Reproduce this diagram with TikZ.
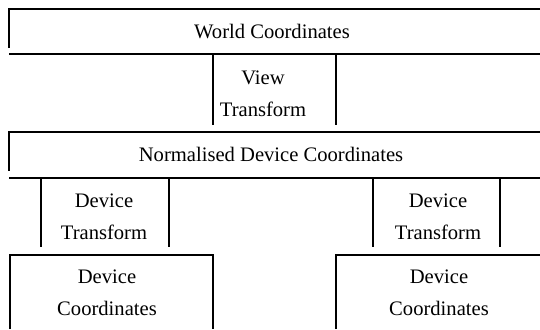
\documentclass[tikz,border=0pt]{standalone}
\usepackage{fontspec}
\setmainfont{Liberation Serif}
\usepackage{tikz}
\usetikzlibrary{positioning}

\begin{document}
\begin{tikzpicture}[
    x=0.5pt, y=-0.5pt,
    every node/.style={align=center, inner sep=0pt,
                       font=\fontsize{10.3}{16}\selectfont},
    rule/.style={line width=0.75pt}
  ]
  \useasboundingbox (0,0) rectangle (540,329);
  % world coordinates band
  \draw[rule] (540,9) -- (9,9) -- (9,48);
  \draw[rule] (9,54) -- (540,54);
  \node (world) at (272,31) {World Coordinates};
  % view transform
  \draw[rule] (213,54) -- (213,125);
  \draw[rule] (336,54) -- (336,125);
  \node (view) at (263,93.5) {View\\Transform};
  % normalised device coordinates band
  \draw[rule] (540,132) -- (9,132) -- (9,171);
  \draw[rule] (9,178) -- (540,178);
  \node (ndc) at (271,154) {Normalised Device Coordinates};
  % device transforms
  \draw[rule] (41,178) -- (41,247);
  \draw[rule] (169,178) -- (169,247);
  \node (dtl) at (104,216.5) {Device\\Transform};
  \draw[rule] (373,178) -- (373,247);
  \draw[rule] (500,178) -- (500,247);
  \node (dtr) at (438,216.5) {Device\\Transform};
  % device coordinates
  \draw[rule] (10,329) -- (10,255) -- (213,255) -- (213,329);
  \node (dcl) at (107,293) {Device\\Coordinates};
  \draw[rule] (336,329) -- (336,255) -- (540,255);
  \node (dcr) at (439,293) {Device\\Coordinates};
\end{tikzpicture}
\end{document}
